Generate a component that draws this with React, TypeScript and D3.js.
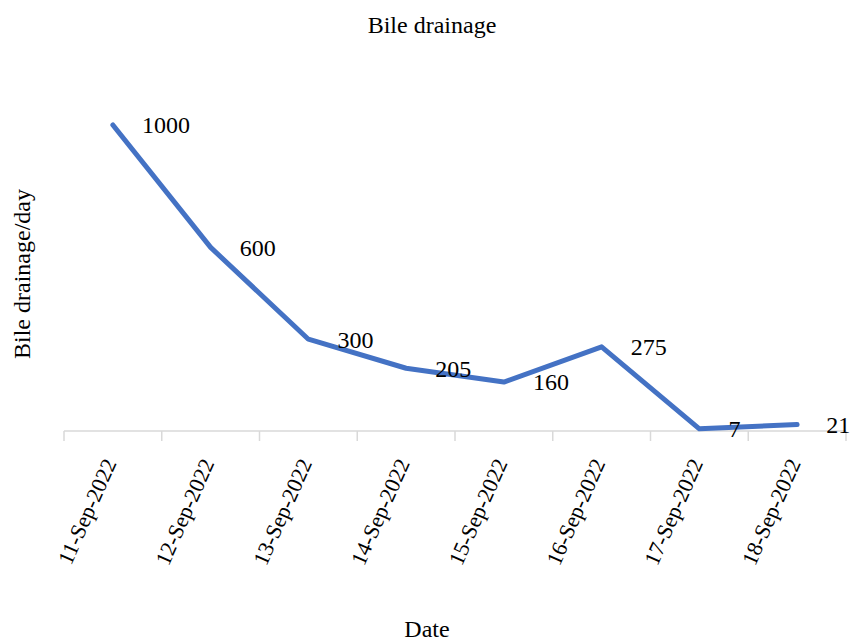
import React from "react";
import * as d3 from "d3";

const dates = [
  "11-Sep-2022",
  "12-Sep-2022",
  "13-Sep-2022",
  "14-Sep-2022",
  "15-Sep-2022",
  "16-Sep-2022",
  "17-Sep-2022",
  "18-Sep-2022",
];
const drainage = [1000, 600, 300, 205, 160, 275, 7, 21];

const title = "Bile drainage";
const xTitle = "Date";
const yTitle = "Bile drainage/day";

const W = 856;
const H = 641;
const FONT = "'Liberation Serif', 'Times New Roman', serif";

export default function App() {
  const x = d3.scaleBand<string>().domain(dates).range([64, 846]).padding(0);
  const y = d3.scaleLinear().domain([0, 1000]).range([431, 125]);
  const line = d3
    .line<number>()
    .x((_, i) => (x(dates[i]) as number) + x.bandwidth() / 2)
    .y((d) => y(d));

  const tickXs = [...dates.map((d) => x(d) as number), 846];
  const axisY = y(0);

  return (
    <svg
      width={W}
      height={H}
      style={{ position: "absolute", left: 0, top: 0, background: "#fff" }}
      fontFamily={FONT}
    >
      <rect width={W} height={H} fill="#fff" />
      <text x={432} y={33} textAnchor="middle" fontSize={24} fill="#000">
        {title}
      </text>
      <text
        transform={`translate(30, 274) rotate(-90)`}
        textAnchor="middle"
        fontSize={24}
        fill="#000"
      >
        {yTitle}
      </text>
      <text x={427} y={637} textAnchor="middle" fontSize={24} fill="#000">
        {xTitle}
      </text>

      <line x1={64} x2={846} y1={axisY} y2={axisY} stroke="#d9d9d9" strokeWidth={1.5} />
      {tickXs.map((tx, i) => (
        <line key={i} x1={tx} x2={tx} y1={axisY} y2={axisY + 10} stroke="#d9d9d9" strokeWidth={1.5} />
      ))}

      {dates.map((d) => {
        const cx = (x(d) as number) + x.bandwidth() / 2;
        return (
          <text
            key={d}
            transform={`translate(${cx + 4}, 463) rotate(-66)`}
            textAnchor="end"
            fontSize={22}
            fill="#000"
          >
            {d}
          </text>
        );
      })}

      <path
        d={line(drainage) || ""}
        fill="none"
        stroke="#4472C4"
        strokeWidth={5}
        strokeLinejoin="round"
        strokeLinecap="round"
      />

      {drainage.map((v, i) => {
        const cx = (x(dates[i]) as number) + x.bandwidth() / 2;
        return (
          <text
            key={i}
            x={cx + 29}
            y={y(v)}
            dy="0.35em"
            fontSize={24}
            fill="#000"
          >
            {v}
          </text>
        );
      })}
    </svg>
  );
}
